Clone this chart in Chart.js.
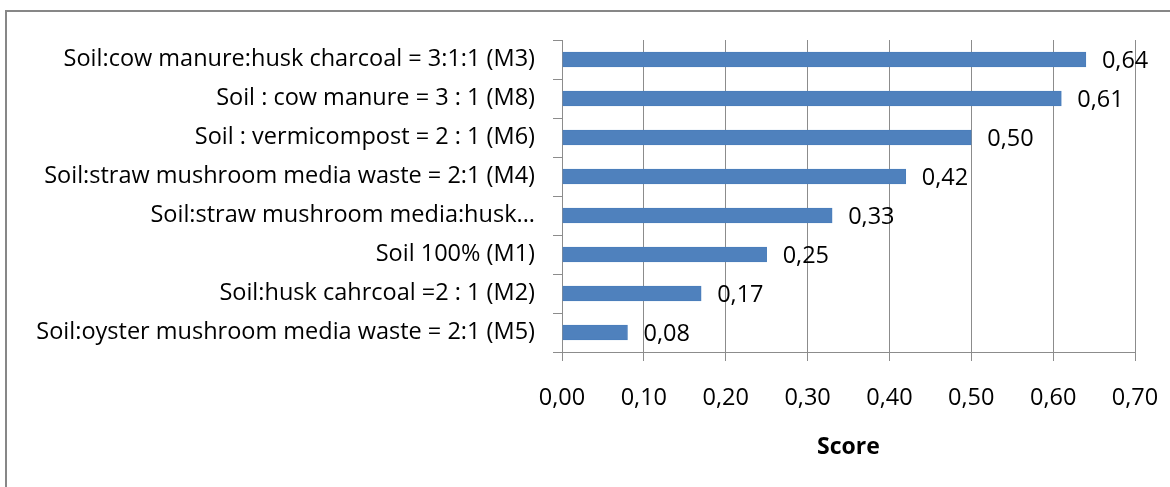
<!DOCTYPE html>
<html>
<head>
<meta charset="utf-8">
<script src="https://cdn.jsdelivr.net/npm/chart.js@4.4.0/dist/chart.umd.min.js"></script>
<style>
  html, body { margin: 0; padding: 0; background: #fff; }
  #wrap { width: 1170px; height: 487px; position: relative; }
</style>
</head>
<body>
<div id="wrap"><canvas id="scoreChart"></canvas></div>
<script>
// Score per planting medium
const categories = [
    'Soil:cow manure:husk charcoal = 3:1:1 (M3)',
    'Soil : cow manure = 3 : 1 (M8)',
    'Soil : vermicompost = 2 : 1 (M6)',
    'Soil:straw mushroom media waste = 2:1 (M4)',
    'Soil:straw mushroom media:husk...',
    'Soil 100% (M1)',
    'Soil:husk cahrcoal =2 : 1 (M2)',
    'Soil:oyster mushroom media waste = 2:1 (M5)'
];
const scores = [0.64, 0.61, 0.50, 0.42, 0.33, 0.25, 0.17, 0.08];
const xTicks = [0, 0.1, 0.2, 0.3, 0.4, 0.5, 0.6, 0.7];
const axisTitle = 'Score';

const FONT = "'Open Sans', sans-serif";
const FONT_SIZE = 23.5;

function fmt(v) {
    return v.toFixed(2).replace('.', ',');
}

// grey frame round the chart, like the spreadsheet export
const framePlugin = {
    id: 'frame',
    beforeDraw: function(chart) {
        const ctx = chart.ctx;
        ctx.save();
        ctx.fillStyle = '#fff';
        ctx.fillRect(0, 0, chart.width, chart.height);
        ctx.strokeStyle = '#878787';
        ctx.lineWidth = 2;
        ctx.strokeRect(6, 11, chart.width + 20, chart.height + 20);
        ctx.restore();
    }
};

// value labels to the right of each bar
const valueLabels = {
    id: 'valueLabels',
    afterDatasetsDraw: function(chart) {
        const ctx = chart.ctx;
        const meta = chart.getDatasetMeta(0);
        ctx.save();
        ctx.font = FONT_SIZE + 'px ' + FONT;
        ctx.fillStyle = '#000';
        ctx.textAlign = 'left';
        ctx.textBaseline = 'middle';
        meta.data.forEach(function(bar, i) {
            ctx.fillText(fmt(scores[i]), bar.x + 16, bar.y + 2);
        });
        ctx.restore();
    }
};

const ctx = document.getElementById('scoreChart').getContext('2d');
new Chart(ctx, {
    type: 'bar',
    data: {
        labels: categories,
        datasets: [{
            data: scores,
            backgroundColor: '#4F81BD',
            borderColor: '#4A7EBB',
            borderWidth: 1,
            barThickness: 15
        }]
    },
    options: {
        indexAxis: 'y',
        responsive: true,
        maintainAspectRatio: false,
        animation: false,
        layout: {
            padding: { top: 40, right: 35, bottom: 0, left: 0 }
        },
        scales: {
            x: {
                min: 0,
                max: 0.7,
                afterFit: function(scale) {
                    scale.height = 135;
                    scale.paddingLeft = 0;
                    scale.paddingRight = 0;
                },
                afterBuildTicks: function(scale) {
                    scale.ticks = xTicks.map(function(v) { return { value: v }; });
                },
                grid: {
                    color: '#8c8c8c',
                    tickLength: 9,
                    lineWidth: 1
                },
                border: { color: '#8c8c8c' },
                ticks: {
                    color: '#000',
                    padding: 23,
                    maxRotation: 0,
                    font: { family: FONT, size: FONT_SIZE },
                    callback: function(value) { return fmt(value); }
                },
                title: {
                    display: true,
                    text: axisTitle,
                    color: '#000',
                    padding: { top: 0, bottom: 26 },
                    font: { family: FONT, size: 23, weight: 'bold' }
                }
            },
            y: {
                afterFit: function(scale) {
                    scale.width = 562;
                    scale.paddingTop = 0;
                    scale.paddingBottom = 0;
                },
                grid: {
                    drawOnChartArea: false,
                    color: '#8c8c8c',
                    tickLength: 9,
                    offset: true
                },
                border: { color: '#8c8c8c' },
                ticks: {
                    color: '#000',
                    padding: 18,
                    autoSkip: false,
                    font: { family: FONT, size: FONT_SIZE }
                }
            }
        },
        plugins: {
            legend: { display: false },
            tooltip: { enabled: false }
        }
    },
    plugins: [framePlugin, valueLabels]
});
</script>
</body>
</html>
